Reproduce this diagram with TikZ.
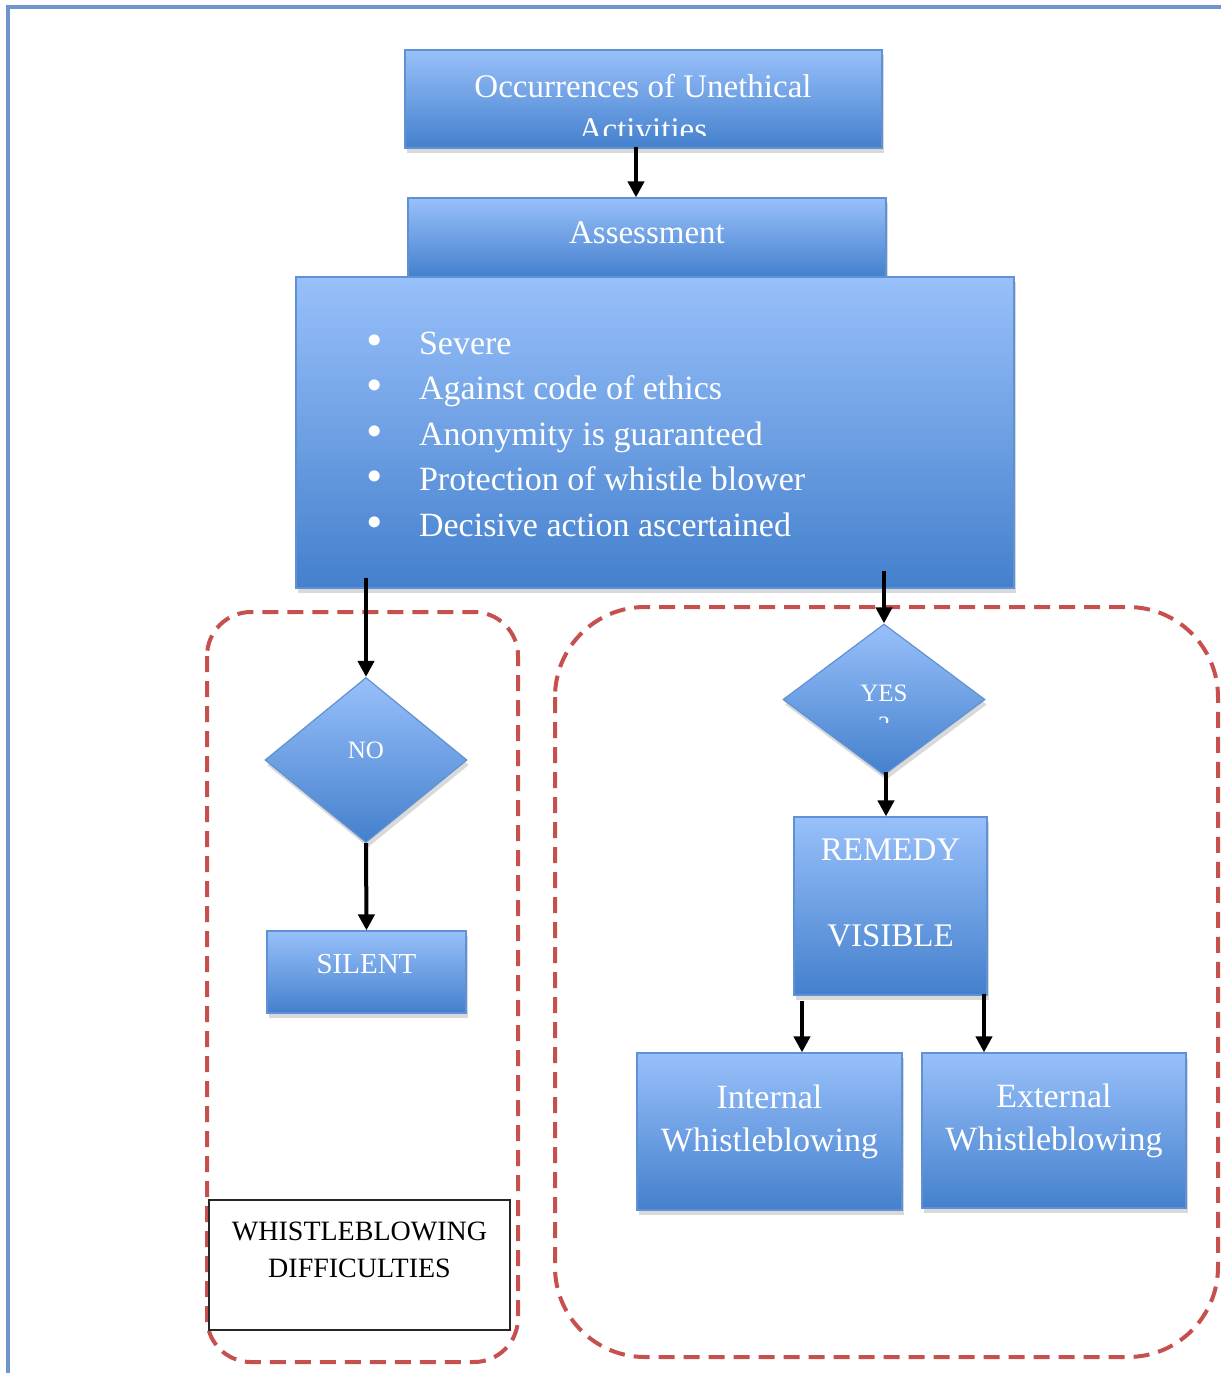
\documentclass[tikz,border=0pt]{standalone}
\usepackage{fontspec}
\setmainfont{Liberation Serif}
\newfontfamily\bulletfont{DejaVu Sans}
\usetikzlibrary{shapes.geometric, arrows.meta, shadows, positioning}

\definecolor{boxtop}{RGB}{152,192,250}
\definecolor{boxbot}{RGB}{68,128,205}
\definecolor{boxline}{RGB}{95,145,212}
\definecolor{dashred}{RGB}{198,80,78}
\definecolor{framebl}{RGB}{110,150,205}

\newcommand{\critbullet}{\makebox[28pt][l]{\bulletfont\fontsize{19}{0}\selectfont •}}

\tikzset{
  bluebox/.style={draw=boxline, line width=0.6pt, top color=boxtop, bottom color=boxbot,
    drop shadow={shadow xshift=1pt, shadow yshift=-2.5pt, opacity=0.3}, inner sep=0pt},
  bluetext/.style={text=white, align=center, font=\fontsize{16.5}{21.5}\selectfont},
  decision/.style={bluebox, diamond, inner sep=0pt},
  plainbox/.style={draw=black!85, line width=0.8pt, fill=white, inner sep=0pt},
  arr/.style={line width=2pt, -{Triangle[length=8pt,width=8pt]}},
  group/.style={draw=dashred, line width=2pt, dash pattern=on 8pt off 4.5pt}
}

\begin{document}
\begin{tikzpicture}[x=0.5pt, y=-0.5pt]
    \useasboundingbox (0,0) rectangle (1221,1373);
    \draw[framebl, line width=1.8pt] (8,1373) -- (8,7) -- (1221,7);

    % dashed groups
    \draw[group, rounded corners=22pt] (207,612) rectangle (518,1362);
    \draw[group, rounded corners=45pt] (555,607) rectangle (1218,1357);

    % top of the chart
    \node[bluebox, minimum width=238.5pt, minimum height=49pt] (occ) at (643.5,99) {};
    \begin{scope}
        \clip (405,50) rectangle (882,135);
        \node[bluetext] (occtext) at (643,108) {Occurrences of Unethical\\Activities};
    \end{scope}
    \node[bluebox, bluetext, minimum width=239pt, minimum height=39.5pt] (assess) at (647,237.5) {\raisebox{5pt}{Assessment}};
    \node[bluebox, minimum width=359pt, minimum height=155.5pt] (crit) at (655,432.5) {};
    \node[bluetext, anchor=west, align=left, font=\fontsize{17}{22.75}\selectfont] (critlist) at (356,434)
        {\critbullet Severe\\
         \critbullet Against code of ethics\\
         \critbullet Anonymity is guaranteed\\
         \critbullet Protection of whistle blower\\
         \critbullet Decisive action ascertained};

    % left branch
    \node[decision, bluetext, font=\fontsize{12.5}{15}\selectfont, minimum width=101pt, minimum height=82.5pt] (no) at (366,760) {\raisebox{10pt}{NO}};
    \node[bluebox, bluetext, font=\fontsize{14.5}{17}\selectfont, minimum width=99.5pt, minimum height=41pt] (silent) at (366.5,972) {\raisebox{8pt}{SILENT}};
    \node[plainbox, minimum width=150.5pt, minimum height=65pt] (diff) at (359.5,1265) {};
    \node[anchor=north, align=center, font=\fontsize{14}{18.5}\selectfont] (difftext) at ([yshift=-8pt]diff.north) {WHISTLEBLOWING\\DIFFICULTIES};

    % right branch
    \node[decision, minimum width=101pt, minimum height=75.5pt] (yes) at (884,699.5) {};
    \begin{scope}
        \clip (780,620) rectangle (990,722);
        \node[bluetext, font=\fontsize{12.5}{16}\selectfont] (yestext) at (884,709) {YES\\?};
    \end{scope}
    \node[bluebox, minimum width=96.5pt, minimum height=89pt] (remedy) at (890.5,906) {};
    \node[bluetext, font=\fontsize{16.5}{43}\selectfont] (remedytext) at (890.5,893) {REMEDY\\VISIBLE};
    \node[bluebox, bluetext, font=\fontsize{17}{21.5}\selectfont, minimum width=132.5pt, minimum height=78.5pt] (internal) at (769.5,1131.5) {Internal\\Whistleblowing\\[-8.5pt]};
    \node[bluebox, bluetext, font=\fontsize{17}{21.5}\selectfont, minimum width=132pt, minimum height=77.5pt] (external) at (1054,1130.5) {External\\Whistleblowing\\[-8.5pt]};

    % arrows
    \draw[arr] ([xshift=-3.75pt,yshift=1pt]occ.south) -- ([xshift=-5.5pt]assess.north);
    \draw[arr] ([yshift=5.5pt]crit.south -| no.north) -- (no.north);
    \draw[arr] ([yshift=9pt]crit.south -| yes.north) -- (yes.north);
    \draw[arr] (no.south) -- (silent.north);
    \draw[arr] ([xshift=1pt,yshift=2pt]yes.south) -- ([xshift=1pt]yes.south |- remedy.north);
    \draw[arr] ([xshift=16.25pt,yshift=-2.5pt]internal.north |- remedy.south) -- ([xshift=16.25pt]internal.north);
    \draw[arr] ([xshift=-35pt,yshift=1pt]external.north |- remedy.south) -- ([xshift=-35pt]external.north);
\end{tikzpicture}
\end{document}
